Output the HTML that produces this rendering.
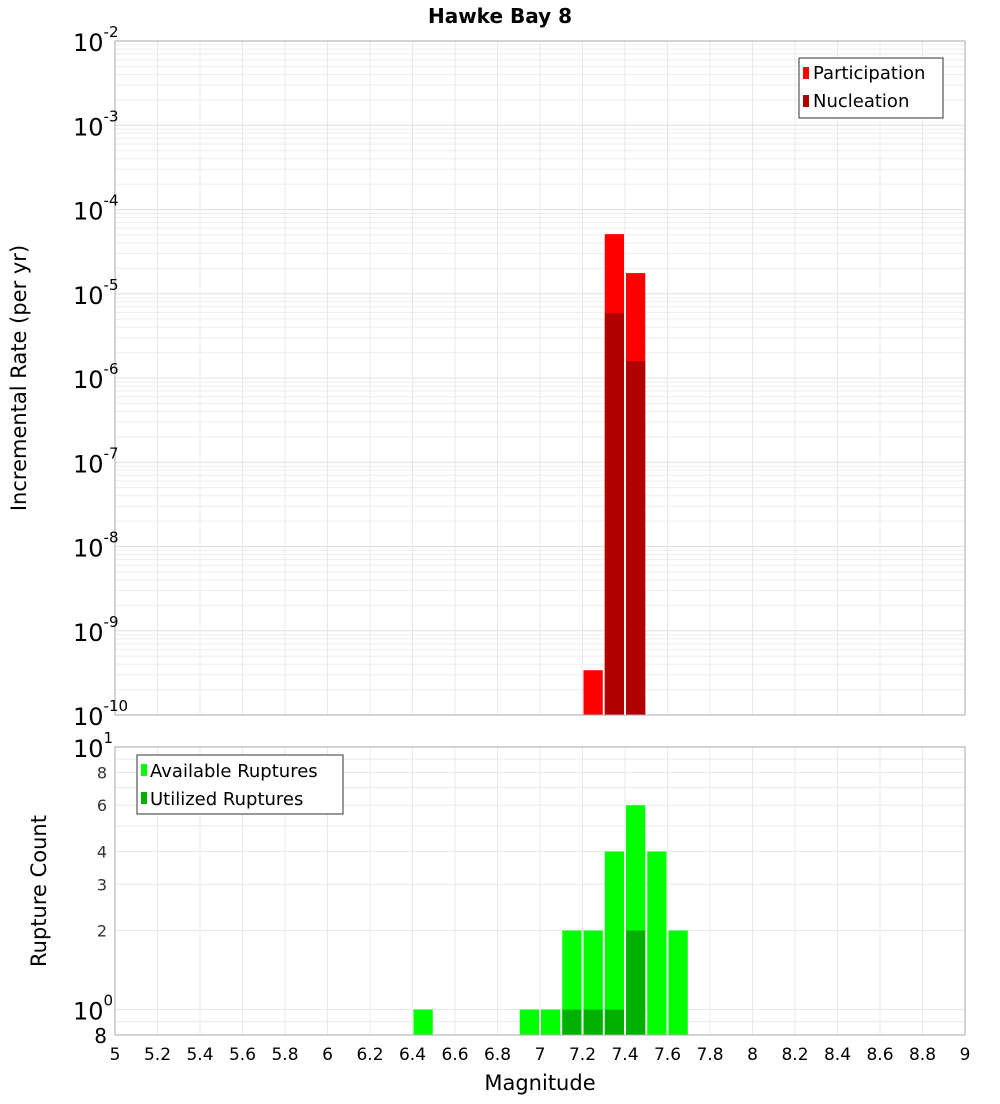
<!DOCTYPE html>
<html><head><meta charset="utf-8"><style>
body{margin:0;background:#fff;font-family:"DejaVu Sans","Liberation Sans",sans-serif}
svg text{font-family:"DejaVu Sans","Liberation Sans",sans-serif}
</style></head><body>
<svg id="c" width="1000" height="1100" xmlns="http://www.w3.org/2000/svg">
<rect width="1000" height="1100" fill="#fff"/>
<text x="500" y="23" text-anchor="middle" font-size="20" font-weight="bold">Hawke Bay 8</text>
<g id="top"></g><g id="bot"></g>
</svg>
<script>
const topBins=[7.2,7.3,7.4];
const participation=[3.4e-10,5.1e-5,1.76e-5];
const nucleation=[0,5.9e-6,1.59e-6];
const botBins=[6.4,6.9,7.0,7.1,7.2,7.3,7.4,7.5,7.6];
const available=[1,1,1,2,2,4,6,4,2];
const utilized=[0,0,0,1,1,1,2,0,0];
const xTicks=[5,5.2,5.4,5.6,5.8,6,6.2,6.4,6.6,6.8,7,7.2,7.4,7.6,7.8,8,8.2,8.4,8.6,8.8,9];
const topExps=[-2,-3,-4,-5,-6,-7,-8,-9,-10];
const botTicks=[8,6,4,3,2];

const NS="http://www.w3.org/2000/svg";
const svg=document.getElementById('c');
function el(t,a,p){const e=document.createElementNS(NS,t);for(const k in a)e.setAttribute(k,a[k]);(p||svg).appendChild(e);return e;}
const X0=115,X1=965;
const x=m=>X0+(m-5)/4*(X1-X0);
const T0=41,T1=715;
const yT=v=>T0+(-2-Math.log10(v))/8*(T1-T0);
const B0=747,B1=1035;
const yB=v=>B0+(1-Math.log10(v))/(1-Math.log10(0.8))*(B1-B0);
const gT=document.getElementById('top'),gB=document.getElementById('bot');

// top grid
for(let e=-10;e<-2;e++)for(let k=1;k<10;k++){const y=yT(k*Math.pow(10,e));
const g=el('line',{x1:X0,x2:X1,y1:y,y2:y,stroke:k==1?'#e0e0e0':'#eeeeee','stroke-width':1},gT);
}
for(const t of xTicks){for(const [g,a,b] of [[gT,T0,T1],[gB,B0,B1]]){const l=el('line',{x1:x(t),x2:x(t),y1:a,y2:b,stroke:'#e8e8e8'},g);
}}
// bottom grid
for(const v of [0.9,1,2,3,4,5,6,7,8,9]){const y=yB(v);const l=el('line',{x1:X0,x2:X1,y1:y,y2:y,stroke:'#e8e8e8'},gB);
}

// top bars
topBins.forEach((b,i)=>{
 const r=el('rect',{x:x(b)+1,y:yT(participation[i]),width:x(b+0.1)-x(b)-2,height:T1-yT(participation[i]),fill:'#ff0000'},gT);
 
 if(nucleation[i]>0){const n=el('rect',{x:x(b)+1,y:yT(nucleation[i]),width:x(b+0.1)-x(b)-2,height:T1-yT(nucleation[i]),fill:'#b00000'},gT);
 }
});
botBins.forEach((b,i)=>{
 const r=el('rect',{x:x(b)+1,y:yB(available[i]),width:x(b+0.1)-x(b)-2,height:B1-yB(available[i]),fill:'#00ff00'},gB);
 
 if(utilized[i]>0){const n=el('rect',{x:x(b)+1,y:yB(utilized[i]),width:x(b+0.1)-x(b)-2,height:B1-yB(utilized[i]),fill:'#00b000'},gB);
 }
});
// frames
for(const [g,a,b] of [[gT,T0,T1],[gB,B0,B1]]){const f=el('rect',{x:X0,y:a,width:X1-X0,height:b-a,fill:'none',stroke:'#aaaaaa'},g);
}
// top y labels
for(const e of topExps){const y=yT(Math.pow(10,e));
 const t=el('text',{x:73,y:y+10,'font-size':24},gT);t.textContent='10';
 const s=el('tspan',{dy:-14,'font-size':15},t);s.textContent=String(e);
 }
// bottom y labels
for(const v of botTicks){const t=el('text',{x:107,y:yB(v)+6,'text-anchor':'end','font-size':16,fill:'#333'},gB);t.textContent=v;
 }
for(const [v,ex] of [[10,'1'],[1,'0']]){const t=el('text',{x:73,y:yB(v)+10,'font-size':24},gB);t.textContent='10';
 const s=el('tspan',{dy:-14,'font-size':15},t);s.textContent=ex;
 }
{const t=el('text',{x:107,y:1043,'text-anchor':'end','font-size':20},gB);t.textContent='8';
 }
// x labels
for(const v of xTicks){const t=el('text',{x:x(v),y:1060,'text-anchor':'middle','font-size':17},gB);t.textContent=String(v);
 }
</script>
<svg width="1000" height="1100" style="position:absolute;left:0;top:0" xmlns="http://www.w3.org/2000/svg">
<text x="540" y="1090" text-anchor="middle" font-size="21">Magnitude</text>
<text transform="translate(26,378) rotate(-90)" text-anchor="middle" font-size="21">Incremental Rate (per yr)</text>
<text transform="translate(46,891) rotate(-90)" text-anchor="middle" font-size="21">Rupture Count</text>
<g>
<rect x="799" y="58" width="144" height="60" fill="#fff" stroke="#333"/>
<rect x="803" y="67" width="6" height="12" fill="#ff0000"/>
<text x="813" y="79" font-size="18">Participation</text>
<rect x="803" y="95" width="6" height="12" fill="#b00000"/>
<text x="813" y="107" font-size="18">Nucleation</text>
</g>
<g>
<rect x="137" y="755" width="206" height="59" fill="#fff" stroke="#333"/>
<rect x="141" y="764" width="6" height="12" fill="#00ff00"/>
<text x="150" y="777" font-size="18">Available Ruptures</text>
<rect x="141" y="792" width="6" height="12" fill="#00b000"/>
<text x="150" y="805" font-size="18">Utilized Ruptures</text>
</g>
</svg>
</body></html>
